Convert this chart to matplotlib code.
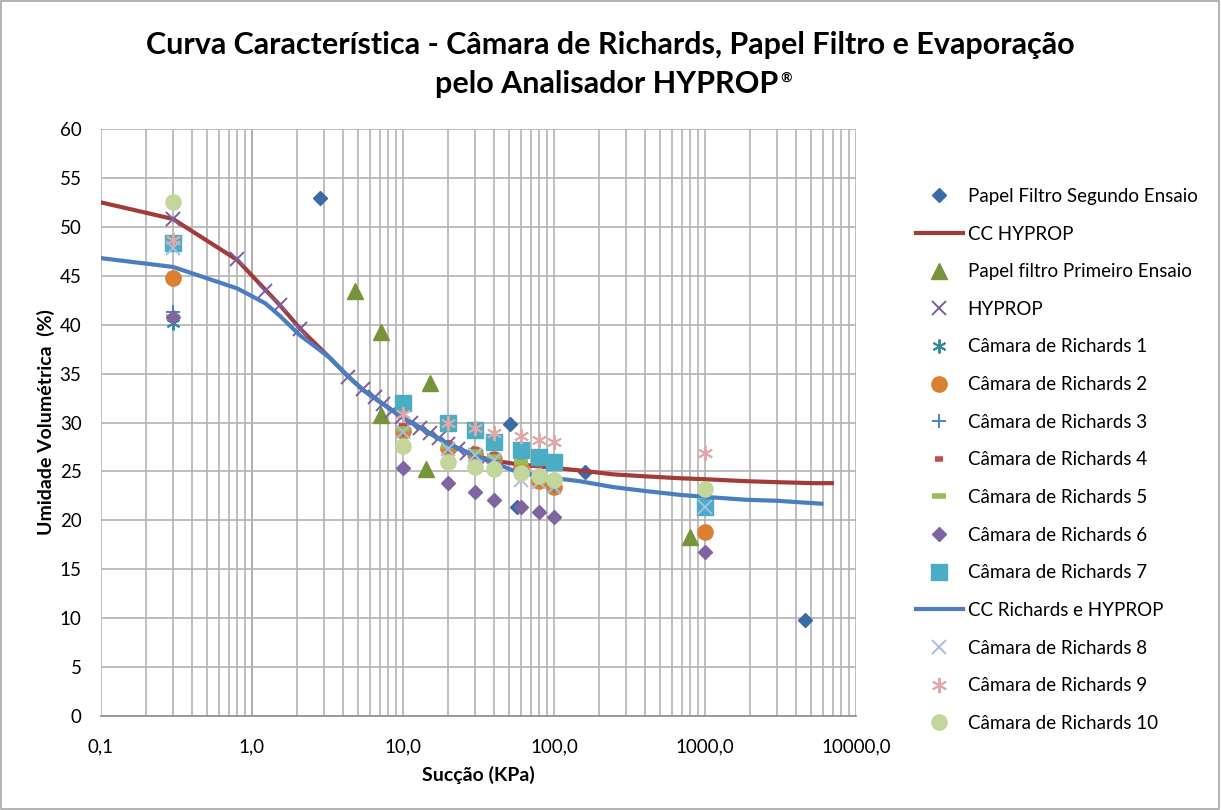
import numpy as np
import matplotlib.pyplot as plt
from matplotlib.ticker import LogLocator, NullFormatter, FixedLocator
from matplotlib.patches import Rectangle

plt.rcParams['font.family'] = ['Lato', 'DejaVu Sans']

# curvas
cc_hyprop_x = [0.1, 0.3, 0.8, 1.22, 1.53, 2.08, 3.28, 4.34, 5.46, 7.04, 10, 15, 20, 30, 40, 53.5, 80,
               148, 246, 400, 685, 1000, 1880, 3000, 5266, 6930]
cc_hyprop_y = [52.5, 50.8, 46.6, 43.6, 42.0, 39.6, 36.6, 34.7, 33.3, 32.1, 30.5, 28.9, 27.8, 26.6, 26.1, 25.8, 25.5,
               25.1, 24.7, 24.5, 24.3, 24.2, 24.0, 23.9, 23.8, 23.8]
cc_rich_x = [0.1, 0.3, 0.8, 1.22, 1.53, 2.08, 2.6, 3.28, 4.34, 5.46, 7.04, 10, 15, 20, 30, 40, 53.5, 80,
             148, 246, 400, 685, 1000, 1880, 3000, 5900]
cc_rich_y = [46.8, 45.9, 43.7, 42.2, 40.9, 38.9, 37.8, 36.6, 34.7, 33.3, 32.1, 30.5, 28.9, 27.8, 26.6, 25.9, 25.1, 24.5,
             24.0, 23.4, 23.0, 22.6, 22.4, 22.1, 22.0, 21.7]

# HYPROP
hyprop_x = [0.3, 0.8, 1.22, 1.53, 2.08, 4.3, 5.4, 6.5, 7.4, 8.5, 9.8, 11.3, 13.0, 15.0, 17.3, 20.0, 23.0, 26.5, 30.5, 35.0]
hyprop_y = [50.8, 46.7, 43.4, 42.0, 39.6, 34.7, 33.4, 32.6, 31.9, 31.2, 30.6, 30.0, 29.4, 28.9, 28.4, 27.8, 27.3, 26.9, 26.5, 26.2]

# papel filtro
pf2_x = [2.8, 51.5, 57, 160, 4600]
pf2_y = [52.9, 29.8, 21.4, 24.9, 9.8]
pf1_x = [4.8, 7.2, 15.0, 7.1, 14.2, 800]
pf1_y = [43.4, 39.2, 34.0, 30.8, 25.2, 18.3]

# camara de richards
cam_x = [0.3, 10, 20, 30, 40, 60, 80, 100, 1000]
cam1 = [40.2, 29.0, 27.2, 26.6, 26.0, 25.2, 24.3, 23.6, 21.3]
cam2 = [44.8, 29.1, 27.4, 26.8, 26.3, 25.3, 24.0, 23.4, 18.8]
cam3 = [41.3, 29.2, 27.5, 26.8, 26.2, 25.0, 24.2, 23.5, 21.5]
cam4 = [48.5, 29.6, 27.9, 27.2, 26.7, 26.2, 25.7, 25.4, 21.5]
cam5 = [40.8, 29.3, 27.6, 27.0, 26.5, 26.0, 25.9, 26.5, 23.2]
cam6 = [40.8, 25.3, 23.8, 22.9, 22.1, 21.4, 20.9, 20.3, 16.8]
cam7 = [48.3, 32.0, 29.9, 29.2, 28.0, 27.2, 26.5, 26.0, 21.4]
cam8 = [47.8, 29.0, 27.3, 26.7, 26.2, 24.1, 23.9, 23.4, 21.4]
cam9 = [48.7, 30.9, 29.9, 29.4, 28.9, 28.6, 28.2, 28.0, 26.9]
cam10 = [52.5, 27.6, 26.0, 25.5, 25.2, 24.8, 24.5, 24.1, 23.2]

xticks = [0.1, 1, 10, 100, 1000, 10000]
xtick_labels = ['0,1', '1,0', '10,0', '100,0', '1000,0', '10000,0']

fig = plt.figure(figsize=(12.21, 8.10), dpi=100)
ax = fig.add_axes([101/1221, 1-716/810, (856-101)/1221, (716-129)/810])
fig.patches.append(Rectangle((0.0005, 0.0008), 0.998, 0.998, transform=fig.transFigure,
                             fill=False, edgecolor='#A6A6A6', lw=1.2))

ast = (6, 2, 0)
ax.plot(pf2_x, pf2_y, 'D', color='#3A6BA5', ms=7.2, ls='none', label='Papel Filtro Segundo Ensaio')
ax.plot(cc_hyprop_x, cc_hyprop_y, '-', color='#A33B39', lw=3, label='CC HYPROP')
ax.plot(pf1_x, pf1_y, '^', color='#77933C', ms=11, ls='none', label='Papel filtro Primeiro Ensaio')
ax.plot(hyprop_x, hyprop_y, 'x', color='#7B5FA0', ms=10, mew=1.4, ls='none', label='HYPROP')
ax.plot(cam_x, cam1, marker=ast, color='#2F8C9E', ms=10, mew=1.4, ls='none', label='Câmara de Richards 1')
ax.plot(cam_x, cam2, 'o', color='#DB7F33', ms=11, ls='none', label='Câmara de Richards 2')
ax.plot(cam_x, cam3, '+', color='#4F81BD', ms=10, mew=1.4, ls='none', label='Câmara de Richards 3')
ax.plot(cam_x, cam4, '_', color='#C0504D', ms=6, mew=4, ls='none', label='Câmara de Richards 4')
ax.plot(cam_x, cam5, '_', color='#9BBB59', ms=10, mew=4, ls='none', label='Câmara de Richards 5')
ax.plot(cam_x, cam6, 'D', color='#8064A2', ms=7.2, ls='none', label='Câmara de Richards 6')
ax.plot(cam_x, cam7, 's', color='#4BACC6', ms=11, ls='none', label='Câmara de Richards 7')
ax.plot(cc_rich_x, cc_rich_y, '-', color='#4A7EC1', lw=3, label='CC Richards e HYPROP')
ax.plot(cam_x, cam8, 'x', color='#A7BFE0', ms=10, mew=1.4, ls='none', label='Câmara de Richards 8')
ax.plot(cam_x, cam9, marker=ast, color='#E0A9A8', ms=11, mew=1.4, ls='none', label='Câmara de Richards 9')
ax.plot(cam_x, cam10, 'o', color='#C3D69B', ms=11, ls='none', label='Câmara de Richards 10')

ax.set_xscale('log')
ax.set_xlim(0.1, 10000)
ax.set_ylim(0, 60)
ax.xaxis.set_major_locator(FixedLocator(xticks))
ax.set_xticklabels(xtick_labels)
ax.xaxis.set_minor_locator(LogLocator(base=10, subs=np.arange(2, 10)))
ax.xaxis.set_minor_formatter(NullFormatter())
ax.set_yticks(np.arange(0, 61, 5))
ax.grid(True, which='both', axis='x', color='#B3B3B3', lw=1.2)
ax.grid(True, which='major', axis='y', color='#B3B3B3', lw=1.2)
ax.set_axisbelow(True)
ax.axvline(1, color='#8C8C8C', lw=1.2, zorder=0.5)
for s in ['top', 'right', 'left']:
    ax.spines[s].set_visible(False)
ax.spines['bottom'].set_color('#8C8C8C')
ax.spines['bottom'].set_linewidth(1.2)
ax.tick_params(which='both', length=0, labelsize=13.5)
ax.tick_params(axis='x', pad=16)
ax.tick_params(axis='y', pad=14)

ax.set_xlabel('Sucção (KPa)', fontsize=14, fontweight='bold', labelpad=8)
ax.set_ylabel('Umidade Volumétrica  (%)', fontsize=14, fontweight='bold', labelpad=3)

fig.text(0.5, 1-45/810, 'Curva Característica - Câmara de Richards, Papel Filtro e Evaporação',
         ha='center', va='center', fontsize=22, fontweight='bold')
t2 = fig.text(607/1221, 1-84/810, 'pelo Analisador HYPROP', ha='center', va='center',
              fontsize=22, fontweight='bold')
fig.canvas.draw()
bb = t2.get_window_extent()
fig.text((bb.x1 + 2)/1221, (bb.y1 - 2)/810, '®', ha='left', va='top', fontsize=10, fontweight='bold')

h, l = ax.get_legend_handles_labels()
fig.legend(h, l, loc='upper left', bbox_to_anchor=(916/1221, 1-188/810), frameon=False,
           fontsize=13.5, numpoints=1, handlelength=2.5, handletextpad=0.25, labelspacing=1.1,
           borderpad=0, borderaxespad=0)

fig.savefig('out.png', dpi=100)
